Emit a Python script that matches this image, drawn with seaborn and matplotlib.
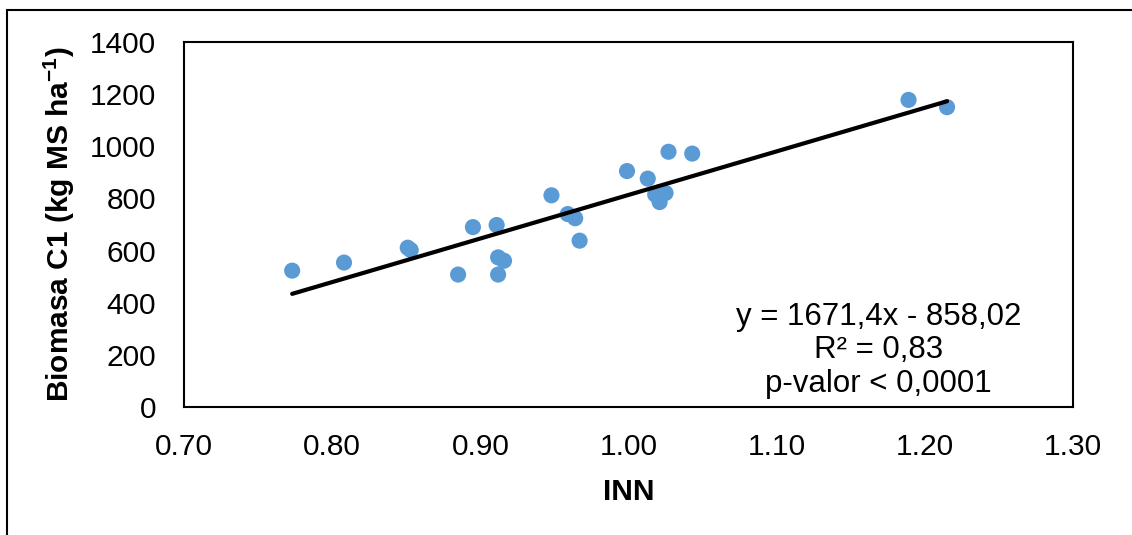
import matplotlib
matplotlib.use("Agg")
import matplotlib.pyplot as plt
from matplotlib.patches import Rectangle
import seaborn as sns
import numpy as np
import pandas as pd

# ---- data ----
inn = [0.773, 0.808, 0.851, 0.853, 0.885, 0.895, 0.911, 0.912, 0.916, 0.912,
       0.948, 0.959, 0.964, 0.967, 0.999, 1.013, 1.018, 1.025, 1.021, 1.027,
       1.043, 1.189, 1.215]
biomasa = [523, 554, 611, 602, 508, 690, 698, 574, 561, 508,
           812, 740, 724, 638, 905, 876, 815, 821, 786, 979,
           972, 1178, 1150]
slope = 1671.4
intercept = -858.02
x_ticks = [0.70, 0.80, 0.90, 1.00, 1.10, 1.20, 1.30]
y_ticks = [0, 200, 400, 600, 800, 1000, 1200, 1400]
eq_text = "y = 1671,4x - 858,02\nR² = 0,83\np-valor < 0,0001"

df = pd.DataFrame({"INN": inn, "Biomasa": biomasa})
xl = np.array([min(inn), max(inn)])
line_df = pd.DataFrame({"INN": xl, "Biomasa": slope * xl + intercept})

sns.set_theme(style="white")
plt.rcParams["font.family"] = ["Liberation Sans", "DejaVu Sans"]
plt.rcParams["text.color"] = "black"
plt.rcParams["axes.labelcolor"] = "black"
plt.rcParams["mathtext.fontset"] = "custom"
plt.rcParams["mathtext.rm"] = "Liberation Sans"
plt.rcParams["mathtext.bf"] = "Liberation Sans:bold"

FS = 21.5
W, H = 1132, 535
fig = plt.figure(figsize=(W / 100, H / 100), dpi=100)
ax = fig.add_axes([184 / W, 1 - 407 / H, (1073 - 184) / W, (407 - 42) / H])

sns.scatterplot(data=df, x="INN", y="Biomasa", ax=ax, s=135, color="#5B9BD5",
                edgecolor="none", linewidth=0, zorder=2)
sns.lineplot(data=line_df, x="INN", y="Biomasa", ax=ax, color="black",
             linewidth=3.0, zorder=3)

ax.set_xlim(0.70, 1.30)
ax.set_ylim(0, 1400)
ax.set_xticks(x_ticks)
ax.set_xticklabels([f"{t:.2f}" for t in x_ticks])
ax.set_yticks(y_ticks)
ax.set_yticklabels([str(t) for t in y_ticks])
ax.tick_params(axis="both", length=0, labelsize=FS, colors="black")
ax.tick_params(axis="x", pad=19)
ax.tick_params(axis="y", pad=20)
for sp in ax.spines.values():
    sp.set_visible(True)
    sp.set_color("black")
    sp.set_linewidth(1.5)

ax.set_xlabel("INN", fontsize=FS, fontweight="bold", labelpad=12)
ax.set_ylabel("Biomasa C1 (kg MS ha$^{\\mathbf{-1}}$)", fontsize=FS,
              fontweight="bold", labelpad=9)

ax.text(0.781, 0.156, eq_text, transform=ax.transAxes, ha="center",
        va="center", fontsize=22.5, linespacing=1.15, color="black")

# outer chart border
fig.patches.append(Rectangle((7 / W, -0.1), 1.2, 1 - 10 / H + 0.1,
                             transform=fig.transFigure, fill=False,
                             edgecolor="black", linewidth=1.5))

fig.savefig("out.png", dpi=100)
